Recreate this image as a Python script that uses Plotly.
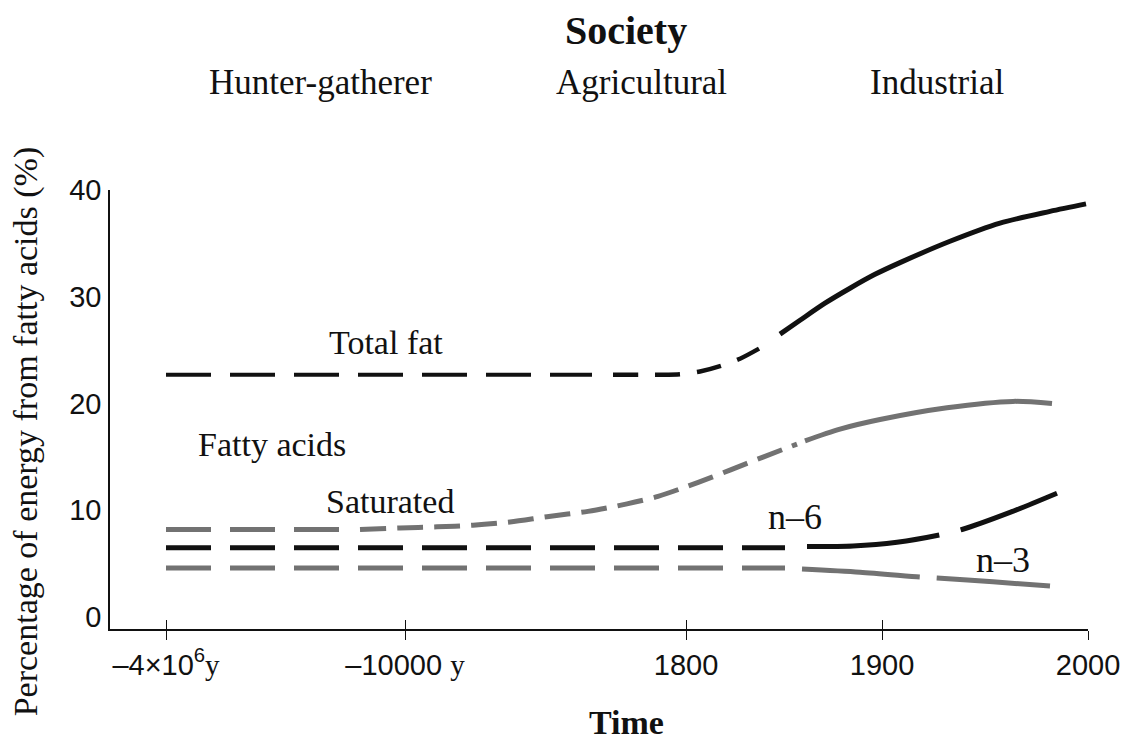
import plotly.graph_objects as go

# ---- axis (time positions are on a non-linear, positional scale) ----
tick_pos = [0.0, 2.39, 5.20, 7.16, 9.22]
tick_text = [
    "–4×10<sup>6</sup><span style='font-family:Liberation Serif'>y</span>",
    "–10000 <span style='font-family:Liberation Serif'>y</span>",
    "1800", "1900", "2000",
]
y_ticks = [0, 10, 20, 30, 40]

# ---- Total fat ----
tf_a_x = [0.0, 4.26]
tf_a_y = [22.7, 22.7]
tf_b_x = [4.47, 4.74, 4.94, 5.14, 5.34, 5.54, 5.74, 5.96]
tf_b_y = [22.7, 22.7, 22.7, 22.75, 23.0, 23.5, 24.2, 25.3]
tf_c_x = [6.14, 6.34, 6.59, 6.84, 7.09, 7.34, 7.84, 8.34, 8.84, 9.20]
tf_c_y = [26.5, 27.8, 29.4, 30.8, 32.1, 33.2, 35.2, 36.9, 38.0, 38.7]

# ---- Saturated ----
sat_a_x = [0.0, 1.74]
sat_a_y = [8.2, 8.2]
sat_b_x = [1.94, 2.34, 2.71, 3.07, 3.44, 3.81, 4.22, 4.61, 4.92, 5.17, 5.46, 5.81, 6.17, 6.31]
sat_b_y = [8.2, 8.35, 8.45, 8.6, 8.9, 9.4, 9.9, 10.6, 11.3, 12.1, 13.1, 14.4, 15.7, 16.2]
sat_c_x = [6.39, 6.74, 7.14, 7.81, 8.47, 8.86]
sat_c_y = [16.5, 17.6, 18.5, 19.6, 20.2, 20.0]

# ---- n-6 ----
n6_a_x = [0.0, 6.19]
n6_a_y = [6.5, 6.5]
n6_b_x = [6.41, 6.87, 7.31, 7.74, 7.96, 8.44, 8.91]
n6_b_y = [6.6, 6.65, 7.0, 7.7, 8.2, 9.8, 11.6]

# ---- n-3 ----
n3_a_x = [0.0, 6.19]
n3_a_y = [4.6, 4.6]
n3_b_x = [6.36, 6.94, 7.54, 7.71, 8.27, 8.84]
n3_b_y = [4.5, 4.2, 3.75, 3.65, 3.3, 2.9]

BLACK = "#111111"
GRAY = "#727272"
SERIF = "Liberation Serif"
SANS = "Liberation Sans"

fig = go.Figure()


def seg(x, y, color, width, dash):
    fig.add_trace(go.Scatter(
        x=x, y=y, mode="lines", showlegend=False, hoverinfo="skip",
        line=dict(color=color, width=width, dash=dash, shape="spline", smoothing=0.8),
    ))


seg(tf_a_x, tf_a_y, BLACK, 4, "45px,19px")
seg(tf_b_x, tf_b_y, BLACK, 4.5, "25px,17px")
seg(tf_c_x, tf_c_y, BLACK, 5, "solid")

seg(sat_a_x, sat_a_y, GRAY, 5, "45px,19px")
seg(sat_b_x, sat_b_y, GRAY, 5, "26px,11px")
seg(sat_c_x, sat_c_y, GRAY, 5, "solid")

seg(n6_a_x, n6_a_y, BLACK, 5, "45px,19px")
seg(n6_b_x, n6_b_y, BLACK, 5, "133px,22px")

seg(n3_a_x, n3_a_y, GRAY, 5, "45px,19px")
seg(n3_b_x, n3_b_y, GRAY, 5, "118px,17px")

# dummy trace for the overlay axis (inside tick marks)
fig.add_trace(go.Scatter(x=[tick_pos[0]], y=[0], xaxis="x2", mode="markers",
                         marker=dict(opacity=0), showlegend=False, hoverinfo="skip"))

XR = [-0.56, 9.22]

fig.update_layout(
    width=1134, height=740,
    margin=dict(l=110, r=46, t=190, b=111),
    plot_bgcolor="white", paper_bgcolor="white",
    xaxis=dict(range=XR, tickvals=tick_pos, ticktext=tick_text,
               showline=True, linecolor=BLACK, linewidth=1.5,
               ticks="outside", ticklen=9, tickwidth=1.2, tickcolor=BLACK,
               showgrid=False, zeroline=False,
               tickfont=dict(family=SANS, size=29, color=BLACK)),
    xaxis2=dict(range=XR, tickvals=tick_pos, overlaying="x", anchor="y", side="bottom",
                ticks="inside", ticklen=9, tickwidth=1.2, tickcolor=BLACK,
                showticklabels=False, showgrid=False, zeroline=False, showline=False),
    yaxis=dict(range=[-1.12, 40.0], tickvals=y_ticks,
               showline=True, linecolor=BLACK, linewidth=1.5,
               ticks="", showgrid=False, zeroline=False, ticklabelstandoff=1,
               tickfont=dict(family=SANS, size=29, color=BLACK)),
)


def label(text, x, y, size=34, xref="x", yref="y", bold=False, angle=0):
    fig.add_annotation(
        text=f"<b>{text}</b>" if bold else text, x=x, y=y, xref=xref, yref=yref,
        showarrow=False, textangle=angle, xanchor="center", yanchor="middle",
        font=dict(family=SERIF, size=size, color=BLACK),
    )


label("Society", 4.60, 1.364, size=40, yref="paper", bold=True)
label("Hunter-gatherer", 1.54, 1.244, size=35, yref="paper")
label("Agricultural", 4.75, 1.244, size=35, yref="paper")
label("Industrial", 7.71, 1.244, size=35, yref="paper")

label("Total fat", 2.20, 25.7)
label("Fatty acids", 1.06, 16.2)
label("Saturated", 2.24, 10.8)
label("n–6", 6.29, 9.4, size=36)
label("n–3", 8.37, 5.3, size=36)

label("Percentage of energy from fatty acids (%)", -0.085, 0.45, xref="paper", yref="paper", angle=-90)
label("Time", 4.60, -0.212, size=34, yref="paper", bold=True)

fig.write_html("out.html", config={"displayModeBar": False},
               post_script="document.body.style.margin='0';document.body.style.padding='0';")
